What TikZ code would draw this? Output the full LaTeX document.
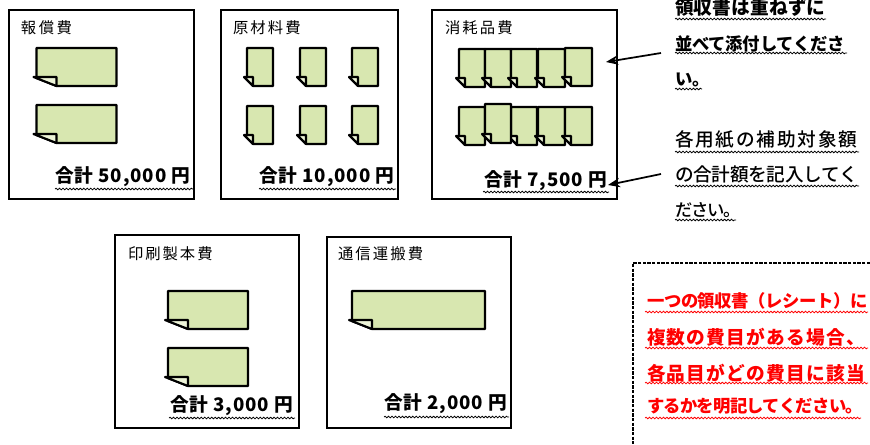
\documentclass[tikz,border=0pt]{standalone}
\usepackage{fontspec}
\usetikzlibrary{decorations.pathmorphing,arrows.meta}
\newfontfamily\jpn{Noto Sans CJK JP}
\newfontfamily\jpnm{Noto Sans CJK JP Medium}
\newfontfamily\jpnb{Noto Sans CJK JP Black}
\definecolor{paper}{HTML}{D8E7B0}
\definecolor{flap}{HTML}{EDF4D8}
\definecolor{alert}{HTML}{FF0000}
\tikzset{
  x=0.75pt,y=-0.75pt,
  panel/.style={draw=black,line width=1.3pt,minimum width=0pt,inner sep=0pt,outer sep=0pt},
  sheetline/.style={draw=black,line width=1.6pt,line join=round},
  wavy/.style={line width=0.6pt,decorate,decoration={snake,segment length=2.6pt,amplitude=0.6pt,pre length=0pt,post length=0pt}},
  textline/.style={anchor=west,inner sep=0pt,outer sep=0pt},
  pointer/.style={line width=1.3pt,-{Stealth[length=9pt,width=7pt]}}
}
% name, left, top, right, bottom
\newcommand{\panelbox}[5]{\node[panel,minimum width={(#4-#2)*0.75pt},minimum height={(#5-#3)*0.75pt}] (#1) at ({(#2+#4)/2},{(#3+#5)/2}) {};}
% x y w h fold
\newcommand{\sheet}[5]{%
  \path[sheetline,fill=paper] (#1,#2) -- ({#1+#3},#2) -- ({#1+#3},{#2+#4}) -- ({#1+#5},{#2+#4}) -- (#1,{#2+#4-8}) -- cycle;
  \path[sheetline,fill=flap] ({#1-3},{#2+#4-9}) -- ({#1+#5},{#2+#4-9}) -- ({#1+#5},{#2+#4}) -- cycle;}
% name x y(centre) size(pt) letterspace font text
\newcommand{\txt}[7]{\node[textline] (#1) at (#2,#3) {\fontsize{#4pt}{#4pt}#6\addfontfeature{LetterSpace=#5}#7};}
\newcommand{\wave}[4][black]{\draw[wavy,draw=#1] (#2,#4) -- (#3,#4);}
\begin{document}
\begin{tikzpicture}
\useasboundingbox (0,0) rectangle (870,444);
\panelbox{p1}{9}{10}{194}{199}
\panelbox{p2}{221}{10}{398}{199}
\panelbox{p3}{432}{10}{617}{199}
\panelbox{p4}{115}{235}{299}{428}
\panelbox{p5}{327}{237}{511}{428}
% headings
\txt{h1}{21}{28}{11.5}{16}{\jpn}{報償費}
\txt{h2}{233}{28}{11.5}{14}{\jpn}{原材料費}
\txt{h3}{445}{28}{11.5}{14}{\jpn}{消耗品費}
\txt{h4}{128}{254}{11.5}{13}{\jpn}{印刷製本費}
\txt{h5}{338}{254}{11.5}{14}{\jpn}{通信運搬費}
% sheets
\sheet{36.5}{48}{80}{38}{20}
\sheet{36.5}{105}{80}{38}{20}
\foreach \sx in {247,300,352}{\foreach \sy in {48,106}{\sheet{\sx}{\sy}{26}{38}{6}}}
\sheet{459}{49}{26}{38}{6}\sheet{485}{49}{26}{38}{6}\sheet{511}{49}{26}{38}{6}\sheet{538}{49}{27}{38}{6}\sheet{565}{48}{27}{38}{6}
\sheet{459}{107}{26}{38}{6}\sheet{511}{107}{26}{38}{6}\sheet{538}{107}{27}{38}{6}\sheet{565}{107}{27}{38}{6}\sheet{485}{104}{26}{39}{6}
\sheet{168}{291}{80}{38}{20}
\sheet{168}{348}{80}{38}{20}
\sheet{352}{291}{133}{38}{20}
% totals
\txt{t1}{55}{177}{14}{5}{\jpnb}{合計 50,000 円}
\wave{55}{193}{189}
\txt{t2}{259}{177}{14}{5}{\jpnb}{合計 10,000 円}
\wave{259}{396}{189}
\txt{t3}{484}{181}{14}{5}{\jpnb}{合計 7,500 円}
\wave{483}{609}{192}
\txt{t4}{170}{406}{14}{5}{\jpnb}{合計 3,000 円}
\wave{169}{295}{418}
\txt{t5}{384}{404}{14}{5}{\jpnb}{合計 2,000 円}
\wave{384}{509}{417}
% right notes
\txt{n1}{675}{7}{14}{1}{\jpnb}{領収書は重ねずに}
\wave{675}{826}{19}
\txt{n2}{675}{44}{13}{-1}{\jpnb}{並べて添付してくださ}
\wave{675}{847}{53}
\txt{n3}{675}{80}{13}{0}{\jpnb}{い。}
\wave{675}{702}{89}
\txt{n4}{675}{140}{14}{9.5}{\jpnm}{各用紙の補助対象額}
\wave{675}{859}{152}
\txt{n5}{675}{174}{14}{-1.5}{\jpnm}{の合計額を記入してく}
\wave{675}{859}{186}
\txt{n6}{675}{210}{13}{-7}{\jpnm}{ださい。}
\wave{675}{736}{220}
% pointers
\coordinate (a1) at (661,53);
\coordinate (b1) at (606,62);
\coordinate (a2) at (661,174);
\coordinate (b2) at (608,185);
\draw[pointer] (a1) -- (b1);
\draw[pointer] (a2) -- (b2);
% dashed frame
\coordinate (d1) at (870,263);
\coordinate (d2) at (633,263);
\coordinate (d3) at (633,444);
\draw[line width=1pt,dash pattern=on 2.5pt off 1pt] (d1) -- (d2) -- (d3);
% red notes
\txt{r1}{647}{301}{13}{-2}{\color{alert}\jpnb}{一つの領収書（レシート）に}
\wave[alert]{645}{868}{312}
\txt{r2}{647}{337}{14}{7}{\color{alert}\jpnb}{複数の費目がある場合、}
\wave[alert]{645}{868}{348}
\txt{r3}{647}{373}{14}{7}{\color{alert}\jpnb}{各品目がどの費目に該当}
\wave[alert]{645}{868}{383}
\txt{r4}{647}{406}{13}{-4}{\color{alert}\jpnb}{するかを明記してください。}
\wave[alert]{645}{861}{418}
\end{tikzpicture}
\end{document}
